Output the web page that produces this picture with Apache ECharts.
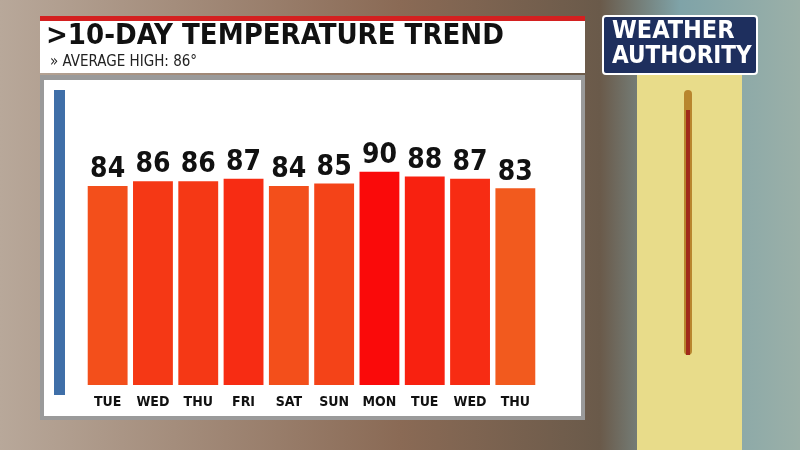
<!DOCTYPE html>
<html><head><meta charset="utf-8">
<script src="https://cdn.jsdelivr.net/npm/echarts@6/dist/echarts.min.js"></script>
<style>html,body{margin:0;padding:0;}#c{width:800px;height:450px;}</style>
</head><body><div id="c"></div>
<script>
const days = ['TUE','WED','THU','FRI','SAT','SUN','MON','TUE','WED','THU'];
const temps = [84,86,86,87,84,85,90,88,87,83];
const colorFor = v => { const t=Math.max(0,Math.min(1,(v-83)/7)); const g=Math.round(90-80*t); return `rgb(${242+Math.round(8*t)},${g},${Math.round(30-20*t)})`; };
const chart = echarts.init(document.getElementById('c'));
chart.setOption({
  backgroundColor: {type:'linear',x:0,y:0,x2:1,y2:0,colorStops:[{offset:0,color:'#b8a89a'},{offset:0.5,color:'#8a6a55'},{offset:0.75,color:'#6a5a4a'},{offset:0.85,color:'#7fa3a8'},{offset:1,color:'#9bb0a8'}]},
  graphic: [
    {type:'rect',shape:{x:40,y:75,width:545,height:345},style:{fill:'#9a9a9a'}},
    {type:'rect',shape:{x:44,y:80,width:537,height:336},style:{fill:'#ffffff'}},
    {type:'rect',shape:{x:54,y:90,width:11,height:305},style:{fill:'#3f6fa8'}},
    {type:'rect',shape:{x:40,y:16,width:545,height:5},style:{fill:'#d42020'}},
    {type:'rect',shape:{x:40,y:21,width:545,height:52},style:{fill:'#ffffff'}},
    {type:'text',left:46,top:22,style:{text:'>10-DAY TEMPERATURE TREND',font:'bold 29px "DejaVu Sans Condensed", "Liberation Sans Narrow", sans-serif',fill:'#111'}},
    {type:'text',left:50,top:55,style:{text:'» AVERAGE HIGH: 86°',font:'15px "DejaVu Sans Condensed", sans-serif',fill:'#222'}},
    {type:'rect',shape:{x:603,y:16,width:154,height:58,r:3},style:{fill:'#1e2f5e',stroke:'#ffffff',lineWidth:2}},
    {type:'text',left:612,top:19,style:{text:'WEATHER',font:'bold 25px "DejaVu Sans Condensed", sans-serif',fill:'#fff'}},
    {type:'text',left:612,top:45,style:{text:'AUTHORITY',font:'bold 24px "DejaVu Sans Condensed", sans-serif',fill:'#fff'}},
    {type:'rect',shape:{x:637,y:75,width:105,height:375},style:{fill:'#e8dc8a'}},
    {type:'rect',shape:{x:684,y:90,width:8,height:265,r:4},style:{fill:'#b8862e'}},
    {type:'rect',shape:{x:686,y:110,width:4,height:245},style:{fill:'#a02a1a'}}
  ],
  grid:{left:85,right:262,top:148,bottom:65},
  xAxis:{type:'category',data:days,axisLine:{show:false},axisTick:{show:false},
    axisLabel:{interval:0,color:'#111',fontWeight:'bold',fontSize:14,fontFamily:'DejaVu Sans Condensed',margin:10}},
  yAxis:{type:'value',min:0,max:100,show:false,splitLine:{show:false}},
  series:[{type:'bar',barWidth:'88%',data:temps.map(v=>({value:v,itemStyle:{color:colorFor(v)}})),
    label:{show:true,position:'top',color:'#111',fontWeight:'bold',fontSize:28,fontFamily:'DejaVu Sans Condensed',distance:2}}]
});
</script></body></html>
